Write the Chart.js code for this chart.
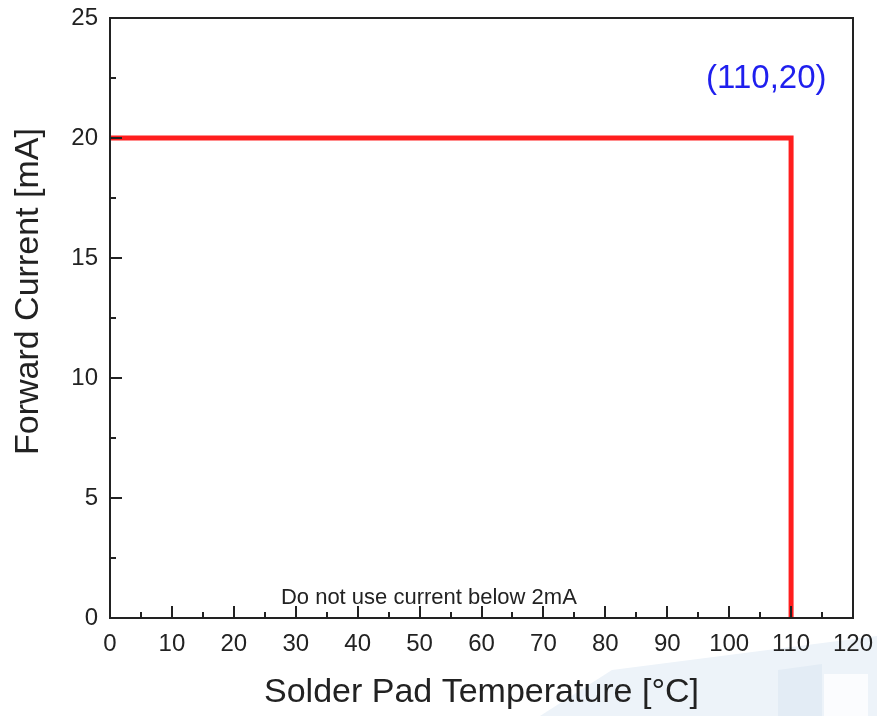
<!DOCTYPE html>
<html>
<head>
<meta charset="utf-8">
<script src="https://cdn.jsdelivr.net/npm/chart.js@4/dist/chart.umd.min.js"></script>
<style>
  body { margin: 0; background: #fff; }
  #wrap { width: 877px; height: 716px; position: relative; }
</style>
</head>
<body>
<div id="wrap"><canvas id="chart"></canvas></div>
<script>
    "use strict";

    // Derating curve: forward current vs solder pad temperature
    const temps = [0, 110, 110];
    const currents = [20, 20, 0];

    // axis ticks
    const xMajor = [0, 10, 20, 30, 40, 50, 60, 70, 80, 90, 100, 110, 120];
    const xMinor = [5, 15, 25, 35, 45, 55, 65, 75, 85, 95, 105, 115];
    const yMajor = [0, 5, 10, 15, 20, 25];
    const yMinor = [2.5, 7.5, 12.5, 17.5, 22.5];

    // titles and notes
    const xTitle = "Solder Pad Temperature [°C]";
    const yTitle = "Forward Current [mA]";
    const yTitleAt = 13.6; // the y title sits a bit above the middle of the axis
    const cornerLabel = "(110,20)";
    const cornerAt = [106, 22.45];
    const noteLabel = "Do not use current below 2mA";
    const noteAt = [51.5, 0.85];

    const FONT = "'Liberation Sans', Arial, sans-serif";
    const INK = "#222222";

    // faint watermark behind the bottom right corner
    const watermark = {
        id: "watermark",
        beforeDraw(chart) {
            const c = chart.ctx;
            c.save();
            c.fillStyle = "#ffffff";
            c.fillRect(0, 0, chart.width, chart.height);
            c.fillStyle = "#edf3f9";
            c.beginPath();
            c.moveTo(540, 716);
            c.lineTo(612, 670);
            c.lineTo(877, 636);
            c.lineTo(877, 716);
            c.closePath();
            c.fill();
            c.fillStyle = "#e3ecf5";
            c.beginPath();
            c.moveTo(778, 670);
            c.lineTo(822, 664);
            c.lineTo(822, 716);
            c.lineTo(778, 716);
            c.closePath();
            c.fill();
            c.fillStyle = "#fbfcfe";
            c.fillRect(824, 674, 44, 42);
            c.restore();
        }
    };

    // frame, inward ticks, y title and text notes
    const frame = {
        id: "frame",
        afterDatasetsDraw(chart) {
            const c = chart.ctx;
            const a = chart.chartArea;
            const xs = chart.scales.x;
            const ys = chart.scales.y;
            c.save();
            c.strokeStyle = INK;
            c.lineWidth = 2;
            c.strokeRect(a.left, a.top, a.right - a.left, a.bottom - a.top);

            c.beginPath();
            xMajor.forEach(v => {
                const px = Math.round(xs.getPixelForValue(v));
                c.moveTo(px, a.bottom); c.lineTo(px, a.bottom - 12);
            });
            xMinor.forEach(v => {
                const px = Math.round(xs.getPixelForValue(v));
                c.moveTo(px, a.bottom); c.lineTo(px, a.bottom - 6);
            });
            yMajor.forEach(v => {
                const py = Math.round(ys.getPixelForValue(v));
                c.moveTo(a.left, py); c.lineTo(a.left + 12, py);
            });
            yMinor.forEach(v => {
                const py = Math.round(ys.getPixelForValue(v));
                c.moveTo(a.left, py); c.lineTo(a.left + 6, py);
            });
            c.stroke();

            c.textAlign = "center";
            c.textBaseline = "middle";

            // y axis title
            c.save();
            c.translate(ys.left + 29, ys.getPixelForValue(yTitleAt));
            c.rotate(-Math.PI / 2);
            c.fillStyle = INK;
            c.font = "34px " + FONT;
            c.fillText(yTitle, 0, 0);
            c.restore();

            c.fillStyle = "#1f1fee";
            c.font = "33px " + FONT;
            c.fillText(cornerLabel, xs.getPixelForValue(cornerAt[0]), ys.getPixelForValue(cornerAt[1]));
            c.fillStyle = INK;
            c.font = "22px " + FONT;
            c.fillText(noteLabel, xs.getPixelForValue(noteAt[0]), ys.getPixelForValue(noteAt[1]));
            c.restore();
        }
    };

    const ctx = document.getElementById("chart").getContext("2d");
    const chart = new Chart(ctx, {
        type: "scatter",
        data: {
            datasets: [{
                data: temps.map((t, i) => ({ x: t, y: currents[i] })),
                showLine: true,
                borderColor: "#ff1e1e",
                borderWidth: 5,
                pointRadius: 0,
                fill: false,
                tension: 0
            }]
        },
        options: {
            responsive: true,
            maintainAspectRatio: false,
            animation: false,
            layout: { padding: { top: 18, right: 24, left: 0, bottom: 0 } },
            plugins: { legend: { display: false }, tooltip: { enabled: false } },
            scales: {
                x: {
                    type: "linear",
                    min: 0,
                    max: 120,
                    afterFit(scale) {
                        scale.height = 98;
                        scale.paddingLeft = 0;
                        scale.paddingRight = 0;
                    },
                    afterBuildTicks(scale) { scale.ticks = xMajor.map(v => ({ value: v })); },
                    grid: { display: false, drawTicks: false, tickLength: 0 },
                    border: { display: false },
                    ticks: {
                        padding: 12,
                        maxRotation: 0,
                        autoSkip: false,
                        color: INK,
                        font: { family: FONT, size: 24 }
                    },
                    title: {
                        display: true,
                        text: xTitle,
                        color: INK,
                        font: { family: FONT, size: 34 },
                        padding: { top: 0, bottom: 3 }
                    }
                },
                y: {
                    type: "linear",
                    min: 0,
                    max: 25,
                    afterFit(scale) {
                        scale.width = 110;
                        scale.paddingTop = 0;
                        scale.paddingBottom = 0;
                    },
                    afterBuildTicks(scale) { scale.ticks = yMajor.map(v => ({ value: v })); },
                    grid: { display: false, drawTicks: false, tickLength: 0 },
                    border: { display: false },
                    ticks: {
                        padding: 12,
                        autoSkip: false,
                        color: INK,
                        font: { family: FONT, size: 24 }
                    },
                    title: { display: false, text: yTitle }
                }
            }
        },
        plugins: [watermark, frame]
    });
</script>
</body>
</html>
